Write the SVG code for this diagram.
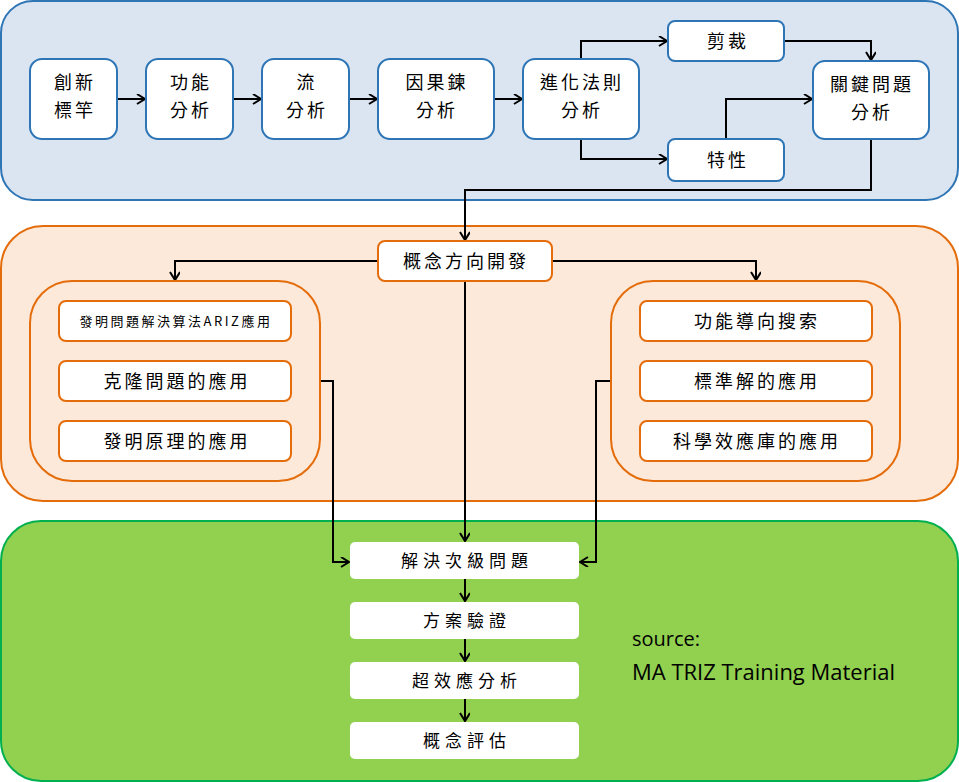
<svg xmlns="http://www.w3.org/2000/svg" width="959" height="782" viewBox="0 0 959 782">
<style>
.cjk{font-family:"Noto Sans CJK TC","Noto Sans CJK SC",sans-serif;fill:#000;text-anchor:middle;}
.t18{font-size:18px;letter-spacing:3px;}
.t17{font-size:17px;letter-spacing:5px;}
.t13{font-size:13px;letter-spacing:2.5px;}
.bn{fill:#fff;stroke:#2e75b6;stroke-width:2;}
.on{fill:#fff;stroke:#e46c0a;stroke-width:2;}
.gn{fill:#fff;stroke:none;}
.c{fill:none;stroke:#000;stroke-width:2;marker-end:url(#ah);}
.src{font-family:"Open Sans","Noto Sans",sans-serif;fill:#000;}
</style>
<defs>
<marker id="ah" markerWidth="12" markerHeight="12" refX="9" refY="5" orient="auto" markerUnits="userSpaceOnUse">
<path d="M1,0 L9,5 L1,10" fill="none" stroke="#000" stroke-width="2"/>
</marker>
</defs>
<g id="panels">
<rect x="1" y="1" width="957" height="199" rx="32" fill="#dbe5f1" stroke="#2e75b6" stroke-width="2"/>
<rect x="1" y="226" width="957" height="275" rx="42" fill="#fde9d9" stroke="#e46c0a" stroke-width="2"/>
<rect x="1" y="521" width="957" height="260" rx="40" fill="#92d050" stroke="#00b050" stroke-width="2"/>
</g>
<g id="connectors">
<path class="c" d="M117,99 H145"/>
<path class="c" d="M233,99 H261"/>
<path class="c" d="M349,99 H377"/>
<path class="c" d="M494,99 H522"/>
<path class="c" d="M581,59 V41 H667"/>
<path class="c" d="M581,139 V159 H667"/>
<path class="c" d="M784,41 H871 V60"/>
<path class="c" d="M726,139 V99 H812"/>
<path class="c" d="M871,139 V190 H465 V240"/>
<path class="c" d="M378,261 H175 V280"/>
<path class="c" d="M552,261 H756 V280"/>
<path class="c" d="M465,281 V541"/>
<path class="c" d="M320,381 H333 V562 H349"/>
<path class="c" d="M611,381 H596 V562 H580"/>
<path class="c" d="M465,579 V601"/>
<path class="c" d="M465,639 V661"/>
<path class="c" d="M465,699 V721"/>
</g>
<g id="n1"><rect class="bn" x="30" y="59" width="87" height="80" rx="12"/><text class="cjk t18" x="75" y="89">創新</text><text class="cjk t18" x="75" y="117">標竿</text></g>
<g id="n2"><rect class="bn" x="146" y="59" width="87" height="80" rx="12"/><text class="cjk t18" x="191" y="89">功能</text><text class="cjk t18" x="191" y="117">分析</text></g>
<g id="n3"><rect class="bn" x="262" y="59" width="87" height="80" rx="12"/><text class="cjk t18" x="307" y="89">流</text><text class="cjk t18" x="307" y="117">分析</text></g>
<g id="n4"><rect class="bn" x="378" y="59" width="116" height="80" rx="12"/><text class="cjk t18" x="437" y="89">因果鍊</text><text class="cjk t18" x="437" y="117">分析</text></g>
<g id="n5"><rect class="bn" x="523" y="59" width="116" height="80" rx="12"/><text class="cjk t18" x="582" y="89">進化法則</text><text class="cjk t18" x="582" y="117">分析</text></g>
<g id="n6"><rect class="bn" x="668" y="21" width="116" height="40" rx="7"/><text class="cjk t18" x="728" y="48">剪裁</text></g>
<g id="n7"><rect class="bn" x="668" y="139" width="116" height="42" rx="7"/><text class="cjk t18" x="728" y="167">特性</text></g>
<g id="n8"><rect class="bn" x="813" y="61" width="116" height="78" rx="12"/><text class="cjk t18" x="872" y="91">關鍵問題</text><text class="cjk t18" x="872" y="119">分析</text></g>
<g id="n9"><rect class="on" x="378" y="241" width="174" height="40" rx="7"/><text class="cjk t18" x="466" y="268">概念方向開發</text></g>
<g id="leftGroup">
<rect x="30" y="281" width="290" height="200" rx="42" fill="none" stroke="#e46c0a" stroke-width="2"/>
<g id="l1"><rect class="on" x="59" y="301" width="232" height="40" rx="7"/><text class="cjk t13" x="176" y="326">發明問題解決算法ARIZ應用</text></g>
<g id="l2"><rect class="on" x="59" y="361" width="232" height="40" rx="7"/><text class="cjk t18" x="177" y="388">克隆問題的應用</text></g>
<g id="l3"><rect class="on" x="59" y="421" width="232" height="40" rx="7"/><text class="cjk t18" x="177" y="448">發明原理的應用</text></g>
</g>
<g id="rightGroup">
<rect x="611" y="281" width="289" height="200" rx="42" fill="none" stroke="#e46c0a" stroke-width="2"/>
<g id="r1"><rect class="on" x="640" y="301" width="232" height="40" rx="7"/><text class="cjk t18" x="757" y="328">功能導向搜索</text></g>
<g id="r2"><rect class="on" x="640" y="361" width="232" height="40" rx="7"/><text class="cjk t18" x="757" y="388">標準解的應用</text></g>
<g id="r3"><rect class="on" x="640" y="421" width="232" height="40" rx="7"/><text class="cjk t18" x="757" y="448">科學效應庫的應用</text></g>
</g>
<g id="b1"><rect class="gn" x="350" y="542" width="229" height="37" rx="5"/><text class="cjk t17" x="467" y="567">解決次級問題</text></g>
<g id="b2"><rect class="gn" x="350" y="602" width="229" height="37" rx="5"/><text class="cjk t17" x="467" y="627">方案驗證</text></g>
<g id="b3"><rect class="gn" x="350" y="662" width="229" height="37" rx="5"/><text class="cjk t17" x="467" y="687">超效應分析</text></g>
<g id="b4"><rect class="gn" x="350" y="722" width="229" height="37" rx="5"/><text class="cjk t17" x="467" y="747">概念評估</text></g>
<g id="source">
<text class="src" x="632" y="646" font-size="20" font-weight="500">source:</text>
<text class="src" x="632" y="680" font-size="22" font-weight="500" textLength="263" lengthAdjust="spacingAndGlyphs">MA TRIZ Training Material</text>
</g>
</svg>
